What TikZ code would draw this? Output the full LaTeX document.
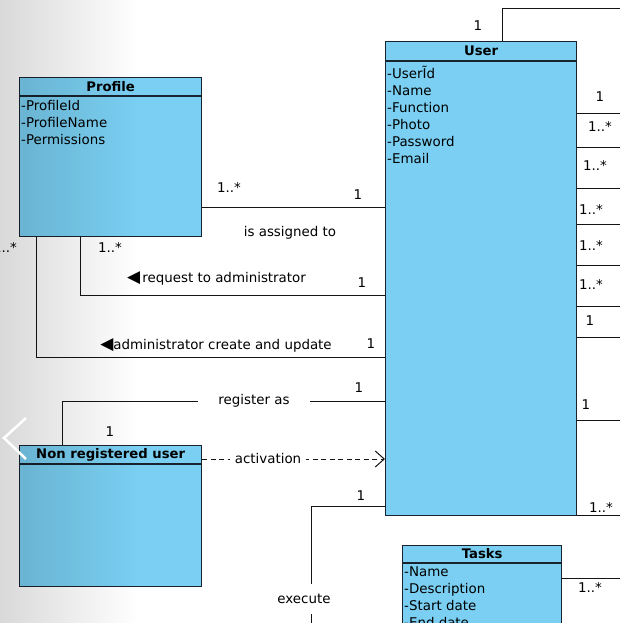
\documentclass[tikz,border=0pt]{standalone}
\usepackage{fontspec}
\setmainfont{DejaVu Sans}
\usetikzlibrary{arrows.meta,fadings}
\definecolor{umlblue}{RGB}{122,207,242}
\definecolor{umlline}{RGB}{25,35,45}
\definecolor{connline}{RGB}{20,20,20}
\tikzfading[name=fadeleft, left color=transparent!0, right color=transparent!100]
\newcommand{\bigtri}{{\fontsize{17}{17}\selectfont◀}}
\begin{document}
\begin{tikzpicture}[x=1pt,y=-1pt,
  every node/.style={font=\fontsize{13.4}{17}\selectfont, text=black},
  classbox/.style={draw=umlline, line width=1.3pt, fill=umlblue, anchor=north west, inner sep=0pt},
  classtitle/.style={font=\fontsize{13.2}{17}\selectfont\bfseries, inner sep=0pt},
  attrs/.style={anchor=north west, align=left, inner sep=1pt},
  headline/.style={draw=umlline, line width=1.3pt},
  assoc/.style={draw=connline, line width=1pt},
  dep/.style={draw=connline, line width=1pt, dash pattern=on 5pt off 3.5pt, -{Straight Barb[length=9pt,width=16pt,line width=1pt]}},
  mult/.style={inner sep=0pt},
  gaplabel/.style={fill=white, inner ysep=2pt}
]
\useasboundingbox (0,0) rectangle (620,623);
\clip (0,0) rectangle (620,623);
\fill[white] (0,0) rectangle (620,623);

% classes
\node[classbox, minimum width=182pt, minimum height=159pt] (profile) at (19,77) {};
\draw[headline] ([yshift=-19pt]profile.north west) -- ([yshift=-19pt]profile.north east);
\node[classtitle] (profileT) at ([yshift=-9.5pt]profile.north) {Profile};
\node[attrs] (profileA) at (20,99.5) {-ProfileId\\-ProfileName\\-Permissions};

\node[classbox, minimum width=191pt, minimum height=474pt] (user) at (385,41) {};
\draw[headline] ([yshift=-20pt]user.north west) -- ([yshift=-20pt]user.north east);
\node[classtitle] (userT) at ([yshift=-10pt]user.north) {User};
\node[attrs] (userA) at (386,64.5) {-UserĨd\\-Name\\-Function\\-Photo\\-Password\\-Email};

\node[classbox, minimum width=182pt, minimum height=141pt] (nru) at (19,445) {};
\draw[headline] ([yshift=-19pt]nru.north west) -- ([yshift=-19pt]nru.north east);
\node[classtitle] (nruT) at ([yshift=-9.5pt]nru.north) {Non registered user};

\node[classbox, minimum width=159pt, minimum height=110pt] (tasks) at (402,545) {};
\draw[headline] ([yshift=-18pt]tasks.north west) -- ([yshift=-18pt]tasks.north east);
\node[classtitle] (tasksT) at ([yshift=-9pt]tasks.north) {Tasks};
\node[attrs] (tasksA) at (403,566) {-Name\\-Description\\-Start date\\-End date};

% helper coordinates
\coordinate (asg) at (0,207);
\coordinate (reqx) at (80,295);
\coordinate (admx) at (36,357);
\coordinate (regA) at (62,401);
\coordinate (actY) at (0,459);
\coordinate (exe) at (311,506);
\coordinate (exeb) at (311,640);
\coordinate (topc) at (502,9);
\coordinate (redge) at (625,9);
\coordinate (tr) at (625,578);

% connectors
\draw[assoc] (profile.east |- asg) -- (user.west |- asg);
\draw[assoc] (profile.south -| reqx) |- (user.west |- reqx);
\draw[assoc] (profile.south -| admx) |- (user.west |- admx);
\draw[assoc] (nru.north -| regA) |- (user.west |- regA);
\draw[dep] (nru.east |- actY) -- (user.west |- actY);
\draw[assoc] (user.west |- exe) -- (exe) -- (exeb);
\draw[assoc] (user.north -| topc) -- (topc) -- (redge);
\foreach \yy in {114,147,188,224,265,306,337,420,515} {
  \coordinate (re\yy) at (625,\yy);
  \draw[assoc] (user.east |- re\yy) -- (re\yy);
}
\draw[assoc] (tasks.east |- tr) -- (tr);

% labels
\node[mult] (m1) at (229,188) {1..*};
\node[mult] (m2) at (358,195) {1};
\node[mult] (lasg) at (290,233) {is assigned to};
\node[mult] (m3) at (110,248) {1..*};
\node[mult] (lreq) at (216.5,278) {\bigtri\,request to administrator};
\node[mult] (m4) at (362,283) {1};
\node[mult] (m5) at (5,248) {1..*};
\node[mult] (ladm) at (216,345) {\bigtri administrator create and update};
\node[mult] (m6) at (371,344) {1};
\node[gaplabel, inner xsep=20pt] (lreg) at (254,401) {register as};
\node[mult] (m7) at (359,388) {1};
\node[mult] (m8) at (110,432) {1};
\node[gaplabel, inner xsep=5pt] (lact) at (268,458) {activation};
\node[mult] (m9) at (361,496) {1};
\node[gaplabel, inner xsep=2pt, inner ysep=10pt] (lexe) at (304,599) {execute};
\node[mult] (m10) at (478,26) {1};
\node[mult] (r1) at (600,97) {1};
\node[mult] (r2) at (600,127) {1..*};
\node[mult] (r3) at (595,166) {1..*};
\node[mult] (r4) at (591,210) {1..*};
\node[mult] (r5) at (591,246) {1..*};
\node[mult] (r6) at (591,285) {1..*};
\node[mult] (r7) at (590,321) {1};
\node[mult] (r8) at (586,405) {1};
\node[mult] (r9) at (601,508) {1..*};
\node[mult] (r10) at (590,588) {1..*};

% screenshot overlay (left shade) and slide chevron
\fill[black, fill opacity=0.2, path fading=fadeleft] (-46,0) rectangle (138,623);
\draw[white, line width=2.5pt] (26,418) -- (4,438) -- (26,459);
\end{tikzpicture}
\end{document}
